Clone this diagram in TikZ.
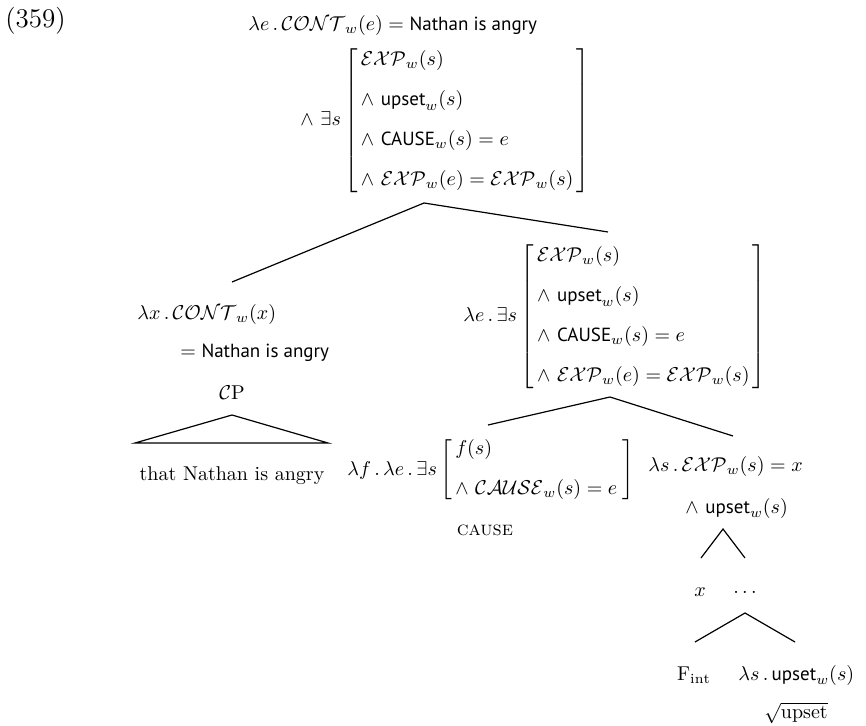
\documentclass[tikz,border=0pt]{standalone}
\usepackage{amsmath}
\usepackage{fontspec}
\setsansfont[Scale=0.95]{PT Sans}
\usetikzlibrary{positioning}

\newcommand{\Cont}{\mathcal{CONT}}
\newcommand{\Expr}{\mathcal{EXP}}
\newcommand{\CauseCal}{\mathcal{CAUSE}}
\newcommand{\sfw}[1]{\textsf{#1}}

\begin{document}
\begin{tikzpicture}[x=0.5pt, y=-0.5pt,
    sem/.style={inner sep=0pt, anchor=west},
    word/.style={inner sep=0pt},
    branch/.style={line width=0.6pt}
]
    \useasboundingbox (0,0) rectangle (866,726);

    \node[word, anchor=west, font=\fontsize{13.5}{15}\selectfont] (exnum) at (5,21) {(359)};

    % root
    \node[sem] (rootA) at (248,26) {$\lambda e\,.\,\Cont_w(e) = \sfw{Nathan is angry}$};
    \node[sem] (rootB) at (300,121) {$\wedge\ \exists s\left[\begin{array}{@{\,}l@{\,}}
        \Expr_w(s)\\[8pt]
        \wedge\ \sfw{upset}_w(s)\\[8pt]
        \wedge\ \sfw{CAUSE}_w(s) = e\\[8pt]
        \wedge\ \Expr_w(e) = \Expr_w(s)
    \end{array}\right]$};
    \coordinate (rootapex) at (424,203);

    % left daughter
    \coordinate (cpfoot) at (232,282);
    \node[sem] (cpsemA) at (137,315) {$\lambda x\,.\,\Cont_w(x)$};
    \node[sem] (cpsemB) at (180,353) {$= \sfw{Nathan is angry}$};
    \node[word] (cp) at (232,393) {$\mathcal{C}$P};
    \coordinate (cptop) at (232,415);
    \coordinate (cpleft) at (135,443);
    \coordinate (cpright) at (328,443);
    \node[word] (cpleaf) at (232,476) {that Nathan is angry};

    % right daughter
    \coordinate (rfoot) at (608,232);
    \node[sem] (rsem) at (463,317) {$\lambda e\,.\,\exists s\left[\begin{array}{@{\,}l@{\,}}
        \Expr_w(s)\\[8pt]
        \wedge\ \sfw{upset}_w(s)\\[8pt]
        \wedge\ \sfw{CAUSE}_w(s) = e\\[8pt]
        \wedge\ \Expr_w(e) = \Expr_w(s)
    \end{array}\right]$};
    \coordinate (rapex) at (610,397);

    % cause head
    \coordinate (causefoot) at (488,425);
    \node[sem] (causesem) at (347,470) {$\lambda f\,.\,\lambda e\,.\,\exists s\left[\begin{array}{@{\,}l@{\;}}
        f(s)\\[8pt]
        \wedge\ \CauseCal_w(s) = e
    \end{array}\right]$};
    \node[word, below=11pt of causesem.south, xshift=-3pt] (causehd) {\textsc{cause}};

    % state
    \coordinate (vfoot) at (733,436);
    \node[sem] (vsemA) at (648,467) {$\lambda s\,.\,\Expr_w(s) = x$};
    \node[sem] (vsemB) at (685,508) {$\wedge\ \sfw{upset}_w(s)$};
    \coordinate (vapex) at (723,529);
    \coordinate (xfoot) at (701,558);
    \coordinate (dfoot) at (745,558);
    \node[word] (xvar) at (700,592) {$x$};
    \node[word] (dots) at (745,592) {$\ldots$};
    \coordinate (dapex) at (745,613);
    \coordinate (ffoot) at (695,642);
    \coordinate (ufoot) at (795,642);
    \node[word] (fint) at (694,675) {F$_{\mathrm{int}}$};
    \node[sem] (usem) at (738,675) {$\lambda s\,.\,\sfw{upset}_w(s)$};
    \node[word] (uroot) at (796,713) {$\sqrt{\text{upset}}$};

    \draw[branch] (cpfoot) -- (rootapex) -- (rfoot);
    \draw[branch] (cpleft) -- (cptop) -- (cpright) -- cycle;
    \draw[branch] (causefoot) -- (rapex) -- (vfoot);
    \draw[branch] (xfoot) -- (vapex) -- (dfoot);
    \draw[branch] (ffoot) -- (dapex) -- (ufoot);
\end{tikzpicture}
\end{document}
